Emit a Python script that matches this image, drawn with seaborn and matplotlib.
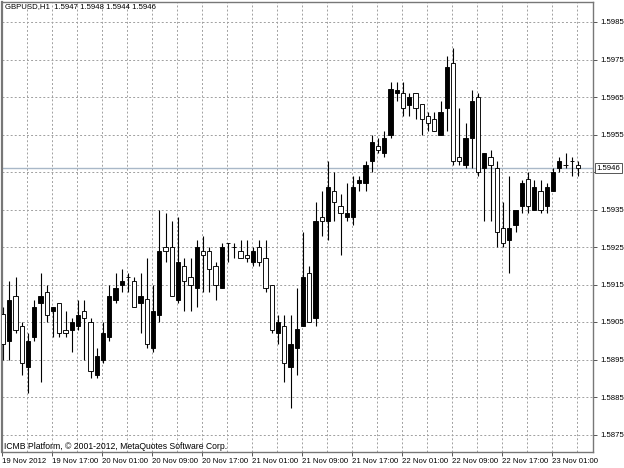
import matplotlib
matplotlib.use("Agg")
import matplotlib.pyplot as plt
import seaborn as sns
import numpy as np
import pandas as pd

# ---------------- data (GBPUSD H1) ----------------
opens = [1.5907, 1.5900, 1.5912, 1.5904, 1.5893, 1.5901, 1.5910, 1.5913, 1.5908, 1.5910,
         1.5903, 1.5903, 1.5904, 1.5908, 1.5905, 1.5891, 1.5895, 1.5901, 1.5911, 1.5915,
         1.5917, 1.5916, 1.5910, 1.5911, 1.5898, 1.5907, 1.5925, 1.5925, 1.5911, 1.5920,
         1.5917, 1.5914, 1.5924, 1.5924, 1.5920, 1.5914, 1.5926, 1.5925, 1.5924, 1.5923,
         1.5921, 1.5925, 1.5922, 1.5915, 1.5902, 1.5904, 1.5893, 1.5898, 1.5904, 1.5918,
         1.5906, 1.5933, 1.5932, 1.5940, 1.5936, 1.5933, 1.5933, 1.5942, 1.5942, 1.5948,
         1.5952, 1.5950, 1.5955, 1.5966, 1.5966, 1.5963, 1.5966, 1.5963, 1.5960, 1.5959,
         1.5955, 1.5962, 1.5974, 1.5949, 1.5947, 1.5954, 1.5965, 1.5946, 1.5949, 1.5946,
         1.5930, 1.5927, 1.5931, 1.5936, 1.5943, 1.5935, 1.5940, 1.5936, 1.5940, 1.5946,
         1.5947, 1.5948, 1.5947]
highs = [1.5909, 1.5916, 1.5917, 1.5905, 1.5902, 1.5911, 1.5918, 1.5915, 1.5909, 1.5910,
         1.5908, 1.5906, 1.5911, 1.5911, 1.5906, 1.5898, 1.5905, 1.5915, 1.5918, 1.5919,
         1.5918, 1.5917, 1.5918, 1.5922, 1.5915, 1.5935, 1.5934, 1.5932, 1.5933, 1.5922,
         1.5922, 1.5927, 1.5928, 1.5925, 1.5921, 1.5926, 1.5926, 1.5926, 1.5927, 1.5927,
         1.5925, 1.5927, 1.5927, 1.5915, 1.5907, 1.5907, 1.5907, 1.5914, 1.5929, 1.5920,
         1.5937, 1.5940, 1.5948, 1.5945, 1.5939, 1.5942, 1.5944, 1.5944, 1.5948, 1.5955,
         1.5954, 1.5956, 1.5969, 1.5969, 1.5969, 1.5966, 1.5966, 1.5963, 1.5961, 1.5961,
         1.5964, 1.5976, 1.5978, 1.5962, 1.5958, 1.5967, 1.5966, 1.5950, 1.5951, 1.5948,
         1.5937, 1.5944, 1.5935, 1.5943, 1.5945, 1.5943, 1.5943, 1.5942, 1.5946, 1.5949,
         1.5950, 1.5949, 1.5948]
lows = [1.5895, 1.5895, 1.5902, 1.5891, 1.5886, 1.5900, 1.5889, 1.5905, 1.5901, 1.5901,
        1.5901, 1.5897, 1.5903, 1.5895, 1.5890, 1.5890, 1.5894, 1.5900, 1.5910, 1.5913,
        1.5913, 1.5909, 1.5902, 1.5898, 1.5897, 1.5905, 1.5921, 1.5912, 1.5910, 1.5908,
        1.5908, 1.5909, 1.5913, 1.5913, 1.5911, 1.5914, 1.5921, 1.5922, 1.5922, 1.5921,
        1.5920, 1.5920, 1.5913, 1.5902, 1.5899, 1.5889, 1.5882, 1.5891, 1.5904, 1.5905,
        1.5904, 1.5928, 1.5927, 1.5932, 1.5923, 1.5932, 1.5931, 1.5940, 1.5940, 1.5945,
        1.5950, 1.5949, 1.5954, 1.5964, 1.5960, 1.5960, 1.5959, 1.5955, 1.5956, 1.5956,
        1.5955, 1.5956, 1.5947, 1.5947, 1.5946, 1.5946, 1.5944, 1.5932, 1.5932, 1.5925,
        1.5925, 1.5918, 1.5929, 1.5934, 1.5934, 1.5935, 1.5934, 1.5934, 1.5940, 1.5945,
        1.5946, 1.5944, 1.5944]
closes = [1.5899, 1.5911, 1.5903, 1.5894, 1.5900, 1.5909, 1.5912, 1.5907, 1.5909, 1.5902,
          1.5902, 1.5905, 1.5907, 1.5906, 1.5892, 1.5896, 1.5902, 1.5912, 1.5914, 1.5916,
          1.5917, 1.5909, 1.5912, 1.5899, 1.5908, 1.5924, 1.5924, 1.5912, 1.5921, 1.5916,
          1.5915, 1.5925, 1.5923, 1.5919, 1.5915, 1.5925, 1.5926, 1.5925, 1.5922, 1.5922,
          1.5924, 1.5921, 1.5914, 1.5903, 1.5905, 1.5894, 1.5899, 1.5903, 1.5917, 1.5905,
          1.5932, 1.5932, 1.5941, 1.5937, 1.5934, 1.5934, 1.5941, 1.5943, 1.5947, 1.5953,
          1.5951, 1.5954, 1.5967, 1.5967, 1.5962, 1.5965, 1.5962, 1.5959, 1.5958, 1.5956,
          1.5961, 1.5973, 1.5948, 1.5948, 1.5954, 1.5964, 1.5945, 1.5950, 1.5947, 1.5929,
          1.5926, 1.5930, 1.5935, 1.5942, 1.5936, 1.5941, 1.5935, 1.5941, 1.5945, 1.5948,
          1.5947, 1.5948, 1.5946]
time_labels = ["19 Nov 2012", "19 Nov 17:00", "20 Nov 01:00", "20 Nov 09:00",
               "20 Nov 17:00", "21 Nov 01:00", "21 Nov 09:00", "21 Nov 17:00",
               "22 Nov 01:00", "22 Nov 09:00", "22 Nov 17:00", "23 Nov 01:00"]
price_ticks = [1.5875, 1.5885, 1.5895, 1.5905, 1.5915, 1.5925, 1.5935,
               1.5945, 1.5955, 1.5965, 1.5975, 1.5985]
current_price = 1.5946
header = "GBPUSD,H1  1.5947 1.5948 1.5944 1.5946"
footer = "ICMB Platform, \u00a9 2001-2012, MetaQuotes Software Corp."

df = pd.DataFrame({"open": opens, "high": highs, "low": lows, "close": closes})
df["idx"] = np.arange(len(df))
df["bull"] = df["close"] > df["open"]

# ---------------- style ----------------
sns.set_theme(style="white")
plt.rcParams["font.family"] = ["Liberation Sans", "DejaVu Sans"]
FS = 5.6
W, H = 624, 468
fig = plt.figure(figsize=(W / 100, H / 100), dpi=100)
fig.patch.set_facecolor("white")
ax = fig.add_axes([2 / W, 16 / H, (593 - 2) / W, (466 - 16) / H])
ax.set_facecolor("white")

# scales
ax.set_xlim(-0.16, 94.4)
ax.set_ylim(1.5985 - 430 / 37500, 1.5985 + 20 / 37500)

# grid
grid_kw = dict(color="#a0a0a0", lw=0.7, ls=(0, (2.0, 2.2)), zorder=0)
for gx in np.arange(4, 95, 4) - 0.16:
    ax.axvline(gx, **grid_kw)
for gy in price_ticks:
    ax.axhline(gy, **grid_kw)

# current price line
ax.axhline(current_price, color="#a9b8c8", lw=1.0, zorder=1)

# candles
ax.vlines(df["idx"], df["low"], df["high"], color="black", lw=0.8, zorder=2)
body_bottom = np.minimum(df["open"], df["close"])
body_h = (df["close"] - df["open"]).abs()
fills = np.where(df["bull"], "black", "white")
ax.bar(df["idx"], body_h, bottom=body_bottom, width=0.68, color=fills,
       edgecolor="black", linewidth=0.65, zorder=3)

# axes/ticks
for s in ax.spines.values():
    s.set_color("#777777")
    s.set_linewidth(1.0)
ax.spines["left"].set_linewidth(1.6)
ax.yaxis.tick_right()
ax.set_yticks(price_ticks)
# the 1.5945 label sits under the current-price box
ax.set_yticklabels(["" if abs(p - current_price) < 0.0002 else f"{p:.4f}" for p in price_ticks])
ax.tick_params(axis="y", which="both", direction="out", length=3, width=0.7,
               color="#555555", pad=2, labelsize=FS, labelcolor="black", right=True, left=False)
xt = np.arange(0, 89, 8) - 0.16
ax.set_xticks(xt)
ax.set_xticklabels(time_labels)
for lab in ax.get_xticklabels():
    lab.set_horizontalalignment("left")
ax.tick_params(axis="x", direction="out", length=3, width=0.7, color="#555555",
               pad=1.5, labelsize=FS, labelcolor="black", bottom=True)
ax.set_xlabel("")
ax.set_ylabel("")

# current price box
ax.annotate(f"{current_price:.4f}", xy=(1.0, current_price), xycoords=("axes fraction", "data"),
            xytext=(2.5, 0), textcoords="offset points", va="center", ha="left",
            fontsize=FS, color="black",
            bbox=dict(boxstyle="square,pad=0.2", fc="white", ec="#555555", lw=0.7),
            annotation_clip=False)

# header and footer text
fig.text(5 / W, 1 - 7 / H, header, fontsize=FS, va="center", ha="left", color="black")
ax.text(2 / 591, 1 / 450, footer, transform=ax.transAxes, fontsize=6.2,
        va="bottom", ha="left", color="black")

fig.savefig("out.png", dpi=100, facecolor="white")
